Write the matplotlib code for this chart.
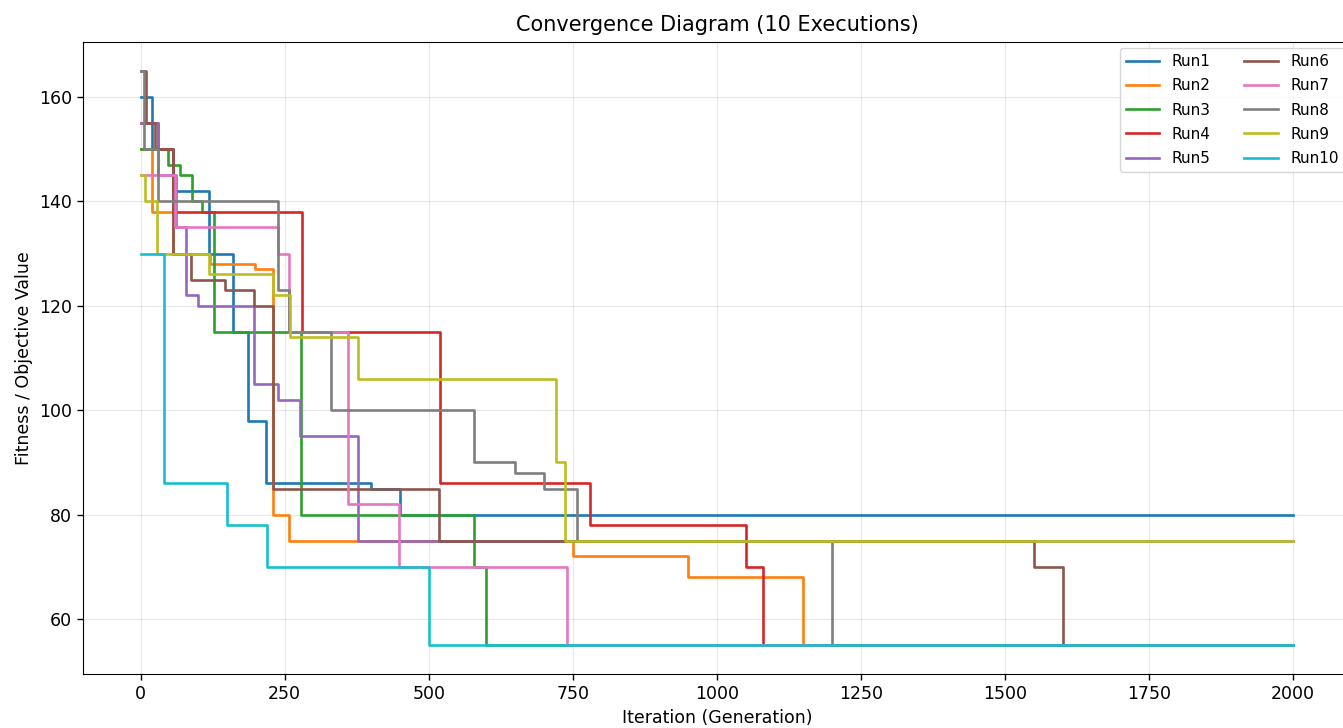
import numpy as np
from matplotlib import pyplot as plt

# Step points (iteration, fitness), steps-post
run1_x = [0, 20, 57, 118, 160, 187, 217, 400, 450, 2000]
run1_y = [160, 150, 142, 130, 115, 98, 86, 85, 80, 80]

run2_x = [0, 20, 57, 121, 199, 229, 257, 750, 950, 1150, 2000]
run2_y = [150, 138, 130, 128, 127, 80, 75, 72, 68, 55, 55]

run3_x = [0, 47, 69, 90, 107, 127, 278, 578, 600, 2000]
run3_y = [150, 147, 145, 140, 138, 115, 80, 70, 55, 55]

run4_x = [0, 30, 57, 280, 520, 780, 1050, 1080, 2000]
run4_y = [155, 150, 138, 115, 86, 78, 70, 55, 55]

run5_x = [0, 30, 61, 78, 99, 196, 239, 277, 378, 2000]
run5_y = [155, 145, 135, 122, 120, 105, 102, 95, 75, 75]

run6_x = [0, 10, 25, 57, 87, 147, 196, 229, 517, 1550, 1600, 2000]
run6_y = [165, 155, 150, 130, 125, 123, 120, 85, 75, 70, 55, 55]

run7_x = [0, 60, 238, 257, 359, 448, 740, 2000]
run7_y = [145, 135, 130, 115, 82, 70, 55, 55]

run8_x = [0, 5, 30, 238, 257, 330, 578, 650, 700, 758, 1200, 2000]
run8_y = [165, 150, 140, 123, 115, 100, 90, 88, 85, 75, 55, 55]

run9_x = [0, 7, 29, 118, 229, 260, 378, 720, 737, 2000]
run9_y = [145, 140, 130, 126, 122, 114, 106, 90, 75, 75]

run10_x = [0, 40, 150, 220, 500, 2000]
run10_y = [130, 86, 78, 70, 55, 55]

runs = [(run1_x, run1_y), (run2_x, run2_y), (run3_x, run3_y), (run4_x, run4_y),
        (run5_x, run5_y), (run6_x, run6_y), (run7_x, run7_y), (run8_x, run8_y),
        (run9_x, run9_y), (run10_x, run10_y)]

fig = plt.figure(figsize=(13.43, 7.28), dpi=100)
# the original picture is cropped on the right, so the axes run past the edge
ax = fig.add_axes([0.0618, 0.0742, 0.944, 0.868])

for i, (xs, ys) in enumerate(runs):
    ax.plot(xs, ys, drawstyle='steps-post', lw=1.9, label='Run%d' % (i + 1))

ax.set_title("Convergence Diagram (10 Executions)", fontsize=15, pad=8)
ax.set_xlabel("Iteration (Generation)", fontsize=12.5)
ax.set_ylabel("Fitness / Objective Value", fontsize=12.5)
ax.tick_params(labelsize=12.5, length=4.5, width=1)
ax.grid(True, alpha=0.3)
ax.legend(ncol=2, loc='upper right', fontsize=11, columnspacing=2.2,
          handlelength=2.2, labelspacing=0.6, borderaxespad=0.4)

plt.savefig('out.png', dpi=100)
